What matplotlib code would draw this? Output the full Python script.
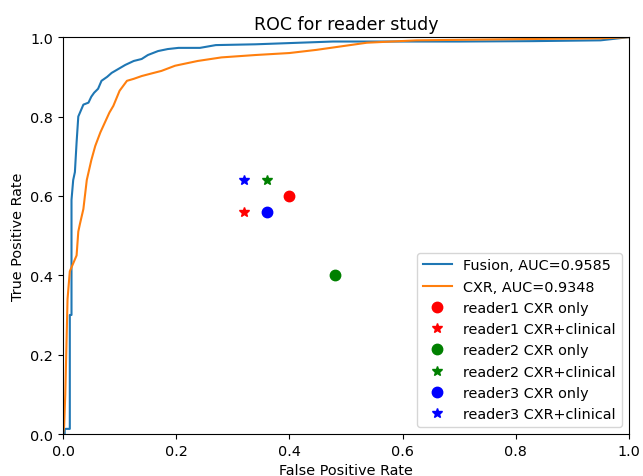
import matplotlib
matplotlib.use("Agg")
import matplotlib.pyplot as plt

plt.rcParams["font.size"] = 10.4

# ROC points
fusion_fpr = [0.0, 0.003, 0.003, 0.012, 0.012, 0.015, 0.015, 0.018, 0.021, 0.024, 0.027, 0.030,
              0.036, 0.045, 0.050, 0.055, 0.062, 0.068, 0.078, 0.086, 0.098, 0.11, 0.125, 0.139,
              0.150, 0.168, 0.185, 0.204, 0.242, 0.27, 0.34, 0.477, 0.70, 0.83, 0.95, 1.0]
fusion_tpr = [0.0, 0.0, 0.013, 0.013, 0.30, 0.30, 0.59, 0.64, 0.66, 0.735, 0.80, 0.81,
              0.83, 0.835, 0.85, 0.86, 0.87, 0.89, 0.90, 0.91, 0.92, 0.93, 0.94, 0.945,
              0.955, 0.965, 0.970, 0.973, 0.973, 0.98, 0.982, 0.989, 0.989, 0.99, 0.992, 1.0]

cxr_fpr = [0.0, 0.002, 0.004, 0.006, 0.008, 0.012, 0.018, 0.024, 0.027, 0.030, 0.036,
           0.042, 0.050, 0.057, 0.066, 0.074, 0.082, 0.089, 0.10, 0.113, 0.125, 0.139,
           0.155, 0.174, 0.198, 0.238, 0.28, 0.34, 0.40, 0.448, 0.537, 0.625, 0.80, 0.95, 1.0]
cxr_tpr = [0.0, 0.02, 0.10, 0.22, 0.34, 0.41, 0.43, 0.45, 0.51, 0.53, 0.567,
           0.64, 0.69, 0.726, 0.76, 0.785, 0.81, 0.827, 0.865, 0.89, 0.895, 0.902,
           0.908, 0.915, 0.928, 0.94, 0.949, 0.955, 0.96, 0.968, 0.986, 0.992, 0.995, 0.997, 1.0]

curve_labels = ["Fusion, AUC=0.9585", "CXR, AUC=0.9348"]

readers = ["reader1", "reader2", "reader3"]
reader_colors = ["red", "green", "blue"]
cxr_only_fpr = [0.40, 0.48, 0.36]
cxr_only_tpr = [0.60, 0.40, 0.56]
clinical_fpr = [0.32, 0.36, 0.32]
clinical_tpr = [0.56, 0.64, 0.64]

fig, ax = plt.subplots(figsize=(6.43, 4.77), dpi=100)
fig.subplots_adjust(left=0.098, right=0.978, top=0.920, bottom=0.088)

ax.plot(fusion_fpr, fusion_tpr, label=curve_labels[0])
ax.plot(cxr_fpr, cxr_tpr, label=curve_labels[1])
for i, r in enumerate(readers):
    ax.plot(cxr_only_fpr[i], cxr_only_tpr[i], "o", color=reader_colors[i],
            markersize=7.5, label=r + " CXR only")
    ax.plot(clinical_fpr[i], clinical_tpr[i], "*", color=reader_colors[i],
            markersize=7.5, label=r + " CXR+clinical")

ax.set_xlim(0, 1)
ax.set_ylim(0, 1)
ax.set_title("ROC for reader study")
ax.set_xlabel("False Positive Rate")
ax.set_ylabel("True Positive Rate")
ax.legend(loc="lower right")

fig.savefig("out.png")
